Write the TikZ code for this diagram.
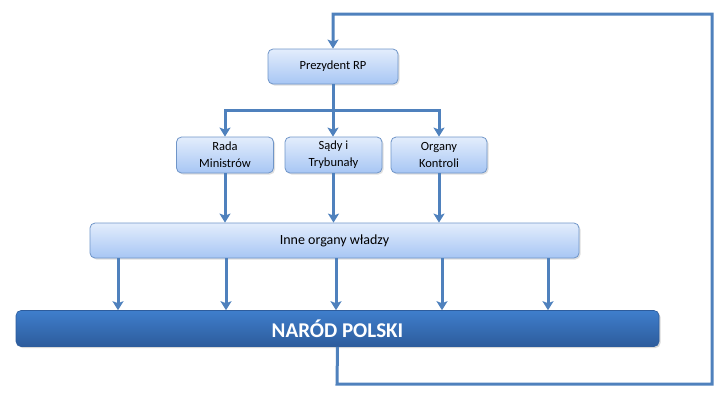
\documentclass[tikz,border=0pt]{standalone}
\usepackage{fontspec}
\setmainfont{Carlito}
\usetikzlibrary{arrows.meta,shadows,calc}
\definecolor{lineblue}{HTML}{4F81BD}
\definecolor{boxtop}{HTML}{E3EDFC}
\definecolor{boxbot}{HTML}{A7C6F4}
\definecolor{boxedge}{HTML}{6F95C8}
\definecolor{bigtop}{HTML}{3F7ECC}
\definecolor{bigbot}{HTML}{2D5C9C}
\tikzset{
  lightbox/.style={rectangle, rounded corners=5pt, draw=boxedge, line width=0.8pt,
    top color=boxtop, bottom color=boxbot, align=center, font=\fontsize{12.5}{17}\selectfont,
    inner sep=1pt,
    drop shadow={shadow xshift=1.5pt, shadow yshift=-1.5pt, opacity=0.25}},
  bigbox/.style={rectangle, rounded corners=5pt, draw=bigbot, line width=0.6pt,
    top color=bigtop, bottom color=bigbot, text=white, font=\fontsize{21}{24}\selectfont\bfseries,
    drop shadow={shadow xshift=1.5pt, shadow yshift=-1.5pt, opacity=0.3}},
  conn/.style={draw=lineblue, line width=3pt, line join=miter},
  arr/.style={conn, -{Stealth[length=9pt,width=11pt,inset=2pt]}}
}
\begin{document}
\begin{tikzpicture}[x=1pt,y=-1pt]
\useasboundingbox (0,0) rectangle (725,405);
\node[lightbox, minimum width=130pt, minimum height=35pt] (prez) at (333,66.5) {Prezydent RP};
\node[lightbox, minimum width=97pt, minimum height=36pt] (rada) at (225,155) {Rada\\Ministrów};
\node[lightbox, minimum width=97pt, minimum height=36pt] (sady) at (333.5,155) {Sądy i\\Trybunały};
\node[lightbox, minimum width=96pt, minimum height=36pt] (org) at (439,155) {Organy\\Kontroli};
\node[lightbox, minimum width=489pt, minimum height=35pt, font=\fontsize{14}{16}\selectfont] (inne) at (334.5,240.5) {Inne organy władzy};
\node[bigbox, minimum width=643pt, minimum height=36pt] (narod) at (337.5,328.5) {NARÓD POLSKI};

\coordinate (hl) at (225,110);
\coordinate (hr) at (439,110);
\draw[conn] (prez.south) -- (prez.south |- hl);
\draw[conn, line cap=rect] (hl) -- (hr);
\draw[arr] (hl) -- (rada.north);
\draw[arr] (prez.south |- hl) -- (sady.north -| prez.south);
\draw[arr] (hr) -- (org.north);

\draw[arr] (rada.south) -- (rada.south |- inne.north);
\draw[arr] (sady.south) -- (sady.south |- inne.north);
\draw[arr] (org.south) -- (org.south |- inne.north);

\foreach \x/\n in {118/a,226/b,336/c,442/d,548/e}{
  \coordinate (s\n) at (\x,258);
  \draw[arr] (s\n) -- (s\n |- narod.north);
}

\coordinate (c1) at (337,384);
\coordinate (c2) at (712,384);
\coordinate (c3) at (712,14);
\coordinate (c4) at (333,14);
\draw[arr] (narod.south) -- (c1) -- (c2) -- (c3) -- (c4) -- (prez.north);
\end{tikzpicture}
\end{document}
